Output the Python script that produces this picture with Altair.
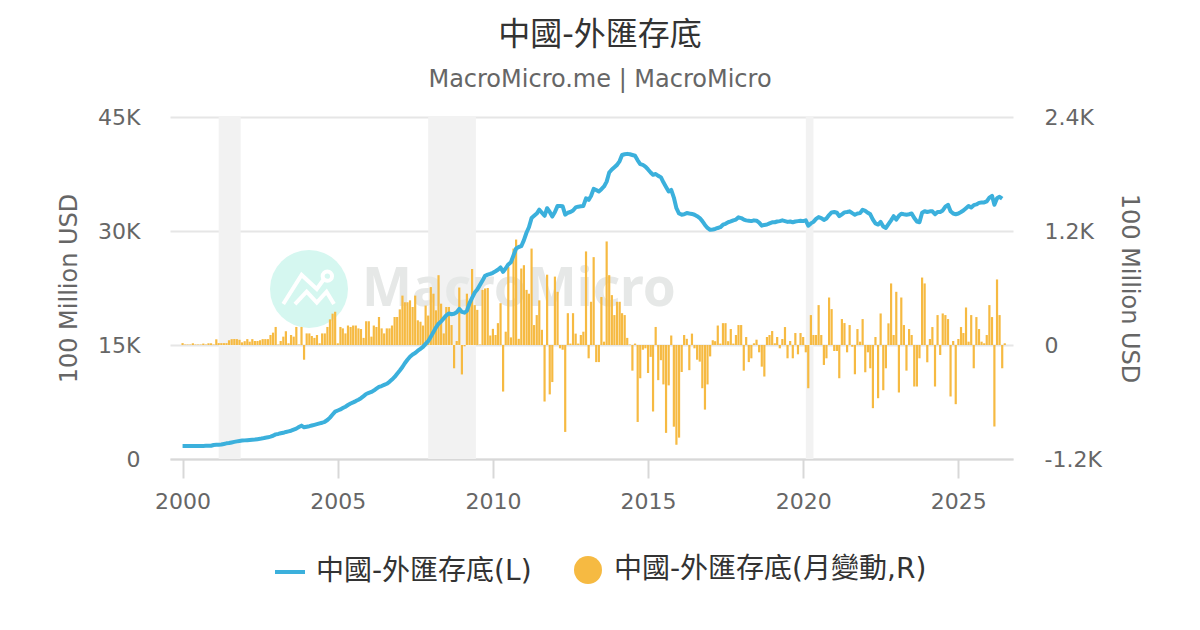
import altair as alt
import pandas as pd

TITLE = "中國-外匯存底"
SUBTITLE = "MacroMicro.me | MacroMicro"
LINE_NAME = "中國-外匯存底(L)"
BAR_NAME = "中國-外匯存底(月變動,R)"
FONT = "DejaVu Sans, Noto Sans CJK TC"

level = [
    1700,1700,1705,1705,1710,1710,1715,1720,1725,1730,1735,1740,
    1840,1860,1880,1910,1980,2060,2100,2180,2250,2320,2380,2420,
    2450,2480,2510,2540,2570,2610,2650,2720,2800,2850,2950,3060,
    3240,3300,3380,3450,3560,3640,3720,3860,4000,4200,4390,4170,
    4250,4320,4400,4490,4580,4680,4770,4900,5130,5450,5850,6230,
    6380,6520,6700,6880,7100,7300,7450,7620,7800,8000,8270,8550,
    8700,8830,9000,9250,9480,9600,9750,9900,10150,10450,10800,11230,
    11650,12100,12600,13050,13450,13750,13950,14250,14500,14750,15150,15500,
    16100,16700,17300,17800,18100,18500,18900,19150,19050,19100,19300,19750,
    19350,19250,19500,20500,21200,21900,22300,22900,23500,24100,24250,24350,
    24500,24700,24900,25200,24620,25100,25600,25900,26800,27700,27900,28000,
    28800,29800,30500,31700,32000,32300,32800,32400,32000,33000,32500,31900,
    32500,33300,33300,33250,32150,32400,32500,32700,33100,33200,33250,33300,
    34300,34100,34600,35550,35400,35200,35500,35860,36500,37700,38100,38400,
    38700,39200,40000,40100,40150,40100,40000,39900,39300,38800,38700,38480,
    38100,37700,37390,37500,37250,37080,36400,35800,35200,35400,34400,33000,
    32300,32150,32200,32360,32300,32250,32140,31950,31700,31300,30800,30400,
    30150,30200,30270,30400,30500,30830,30950,31150,31260,31400,31500,31800,
    31700,31500,31400,31350,31300,31400,31350,31100,30700,30800,30850,31000,
    31140,31150,31250,31300,31400,31300,31200,31250,31150,31250,31300,31350,
    31300,31400,30700,31000,31200,31600,31830,31700,31450,31650,32100,32450,
    32500,32400,31950,32200,32450,32500,32590,32350,32140,32300,32350,32800,
    32650,32400,32200,31500,31000,30850,31200,30600,30400,30900,31400,31950,
    31500,32000,32270,32200,32140,32200,32300,31700,31250,31150,32400,32600,
    32500,32590,32590,32200,32500,32500,32700,33200,33450,32600,32300,32200,
    32300,32500,32700,33000,33300,33100,33400,33500,33700,33750,33760,33900,
    34400,34630,33450,34300,34500,34250,
]

change = [
    20,5,5,5,18,5,5,5,15,5,18,18,
    5,60,20,20,20,20,50,62,62,62,55,28,
    40,62,35,62,42,42,50,62,62,62,105,130,
    190,5,42,88,145,18,105,88,190,5,190,-155,
    122,122,95,75,105,18,122,122,190,270,330,350,
    18,190,175,122,205,190,205,205,175,168,75,250,
    250,88,205,190,295,175,122,175,175,205,295,295,
    375,520,450,450,470,400,520,260,245,205,415,310,
    610,540,365,735,435,122,400,400,210,-245,42,605,
    -310,-14,540,420,800,420,370,5,580,595,600,100,
    170,105,230,440,-490,140,820,80,1015,1110,65,805,
    840,580,540,1015,210,315,470,160,-595,740,-520,-390,
    720,560,-35,-50,-915,335,15,335,120,15,105,140,
    985,-140,455,925,-180,-180,505,35,1090,735,525,315,
    455,455,335,315,75,5,-270,15,-810,-350,-50,-35,
    -295,-125,-700,190,-370,-160,-415,-925,-425,100,-860,-1050,
    -975,-285,105,65,-265,120,-35,-155,-175,-455,-680,-415,
    -120,50,40,205,15,230,230,40,168,15,105,210,
    210,-270,84,-180,-140,18,56,-77,-228,-332,84,105,
    147,18,84,-35,63,189,-140,42,-140,126,-98,126,
    84,-77,-455,315,105,105,420,105,-210,-140,500,378,
    -63,-63,-350,273,231,-77,210,-18,-308,168,35,273,
    -287,-77,-245,-665,84,-560,332,-476,-245,228,648,105,
    560,-500,500,210,-270,168,105,-437,-437,-140,710,648,
    -182,63,189,-437,315,-105,332,315,273,-542,42,-623,
    63,189,126,395,35,315,-245,294,168,35,18,105,
    420,294,-858,690,315,-245,18,
]

recession_start = ["2001-03-01", "2007-12-01", "2020-02-01"]
recession_end = ["2001-11-15", "2009-06-15", "2020-05-01"]

left_ticks = [0, 15000, 30000, 45000]
right_ticks = [-1200, 0, 1200, 2400]
year_ticks = [2000, 2005, 2010, 2015, 2020, 2025]

dates_level = pd.date_range("2000-01-01", periods=len(level), freq="MS")
dates_change = pd.date_range("2000-01-01", periods=len(change), freq="MS")
df_level = pd.DataFrame({"date": dates_level, "value": level, "series": LINE_NAME})
df_change = pd.DataFrame({"date": dates_change, "value": change, "series": BAR_NAME})
df_rec = pd.DataFrame({"start": pd.to_datetime(recession_start), "end": pd.to_datetime(recession_end)})
df_one = pd.DataFrame({"a": [1]})

BLUE = "#3bb0dc"
ORANGE = "#f6ba42"
GREY = "#666666"

x_scale = alt.Scale(domain=["1999-08-06", "2026-10-06"], nice=False, padding=0)
x_axis = alt.Axis(
    values=[alt.DateTime(year=y) for y in year_ticks],
    format="%Y", grid=False, labelFontSize=22, labelColor=GREY, labelPadding=13,
    tickColor="#d8d8d8", tickSize=19, tickWidth=2, domainColor="#d8d8d8", domainWidth=2,
    labelFont=FONT,
)
x = alt.X("date:T", title=None, scale=x_scale, axis=x_axis)

rects = alt.Chart(df_rec).mark_rect(color="#f2f2f2").encode(
    x=alt.X("start:T", title=None, scale=x_scale, axis=x_axis),
    x2="end:T",
)

circle = alt.Chart(df_one).mark_point(filled=True, color="#d5f7f0", size=6084, opacity=1, shape="circle").encode(
    x=alt.value(139), y=alt.value(172))
logo = alt.Chart(df_one).mark_point(
    filled=False, color="white", size=6084, opacity=1, strokeWidth=4,
    shape="M-.66 .385L-.19 -.36L.2 0L.38 -.25M.59 -.33A.12 .12 0 1 1 .35 -.33A.12 .12 0 1 1 .59 -.33M-.36 .385L-.06 .07L.2 .35L.45 .07L.64 .385",
).encode(x=alt.value(139), y=alt.value(172))
wm = alt.Chart(df_one).mark_text(
    text="MacroMicro", fontSize=53, font="Noto Sans", fontWeight="bold", color="#e6e8e7",
    align="left", baseline="middle",
).encode(x=alt.value(192), y=alt.value(173))

bars = alt.Chart(df_change).mark_bar(size=2.2).encode(
    x=x,
    y=alt.Y("value:Q", title="100 Million USD",
            scale=alt.Scale(domain=[-1200, 2400], nice=False, zero=False),
            axis=alt.Axis(orient="right", values=right_ticks, grid=False, domain=False, ticks=False,
                          labelExpr="datum.value==0?'0':datum.value/1000+'K'",
                          labelFontSize=22, labelColor=GREY, labelPadding=31, labelFont=FONT,
                          titleFontSize=24, titleColor=GREY, titleFontWeight="normal", titleFont=FONT,
                          titlePadding=15)),
    fill=alt.Fill("series:N", scale=alt.Scale(range=[ORANGE]),
                  legend=alt.Legend(title=None, orient="none", legendX=404, legendY=439,
                                    symbolType="circle", symbolSize=784, symbolStrokeWidth=0,
                                    labelFontSize=28, labelColor="#333333", labelFont=FONT,
                                    labelLimit=500, labelOffset=12)),
)

line = alt.Chart(df_level).mark_line(strokeWidth=4, strokeJoin="round").encode(
    x=x,
    y=alt.Y("value:Q", title="100 Million USD",
            scale=alt.Scale(domain=[0, 45000], nice=False),
            axis=alt.Axis(orient="left", values=left_ticks, grid=True, gridColor="#e6e6e6", gridWidth=2,
                          domain=False, ticks=False,
                          labelExpr="datum.value==0?'0':datum.value/1000+'K'",
                          labelFontSize=22, labelColor=GREY, labelPadding=30, labelFont=FONT,
                          titleFontSize=24, titleColor=GREY, titleFontWeight="normal", titleFont=FONT,
                          titlePadding=16)),
    stroke=alt.Stroke("series:N", scale=alt.Scale(range=[BLUE]),
                      legend=alt.Legend(title=None, orient="none", legendX=103, legendY=438,
                                        symbolType="stroke", symbolSize=900, symbolStrokeWidth=4,
                                        labelFontSize=28, labelColor="#333333", labelFont=FONT,
                                        labelLimit=500, labelOffset=9)),
)

chart = alt.layer(rects, circle, logo, wm, bars, line).resolve_scale(
    y="independent", fill="independent", stroke="independent"
).properties(
    width=843, height=342,
    padding={"left": 49, "top": 11, "right": 5, "bottom": 5},
    title=alt.TitleParams(
        text=TITLE, subtitle=SUBTITLE, anchor="middle", dx=8.5, offset=13,
        fontSize=32, fontWeight="normal", color="#333333", font=FONT,
        subtitleFontSize=24, subtitleColor=GREY, subtitleFont=FONT, subtitlePadding=16,
    ),
).configure_view(stroke=None).configure_axis(labelFont=FONT, titleFont=FONT)

chart.save("out.html", embed_options={"renderer": "svg", "actions": False})
